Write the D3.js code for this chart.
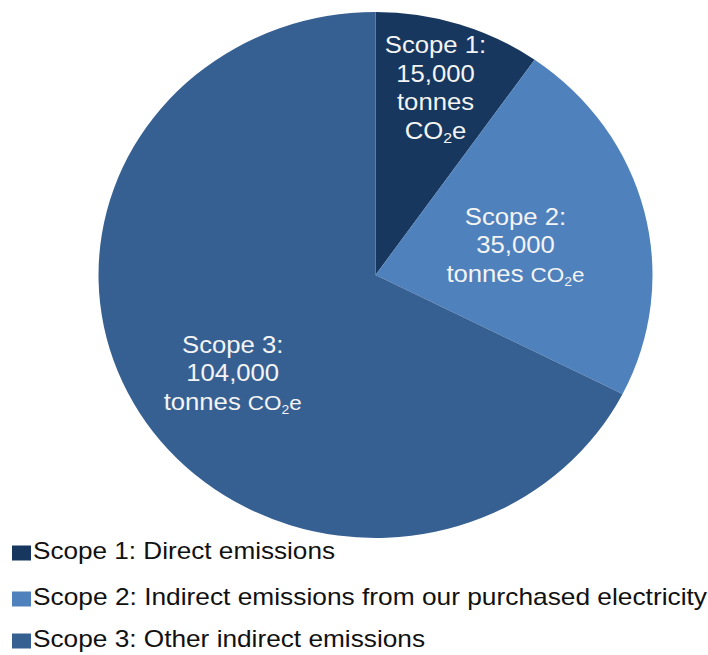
<!DOCTYPE html>
<html>
<head>
<meta charset="utf-8">
<script src="https://cdn.jsdelivr.net/npm/d3@7"></script>
<style>
    body { margin: 0; background: #fff; }
    svg { display: block; font-family: 'Liberation Sans', Arial, sans-serif; }
</style>
</head>
<body>
<div id="chart"></div>
<script>
// DATA
const categories = ['Scope 1', 'Scope 2', 'Scope 3']
const emissions = [15000, 35000, 104000]
const legendLabels = [
    'Scope 1: Direct emissions',
    'Scope 2: Indirect emissions from our purchased electricity',
    'Scope 3: Other indirect emissions'
]
const colors = ['#17375e', '#4f81bd', '#376092']

// SETTINGS
const settings = {
    width: 708,
    height: 655,
    center: { x: 375.5, y: 275 },
    radiusX: 277,
    radiusY: 263,
    labelRadius: [0.744, 0.518, 0.636],
    labelAngleShift: [-0.6, 1.3, -4.3],
    labelSize: 24,
    labelStretch: 1.07,
    lineHeight: 28.5,
    legend: { x: 12, rows: [551, 597, 639], boxW: 19, boxH: 15, fontSize: 24, textX: 33, widths: [302, 674, 392] }
}

const svg = d3.select('#chart').append('svg')
    .attr('width', settings.width)
    .attr('height', settings.height)

const pie = d3.pie().sort(null).value(d => d)
const arcs = pie(emissions)

const arc = d3.arc().innerRadius(0).outerRadius(settings.radiusX)

const pieGroup = svg.append('g')
    .attr('transform', `translate(${settings.center.x}, ${settings.center.y}) scale(1, ${settings.radiusY / settings.radiusX})`)

pieGroup.selectAll('path')
    .data(arcs)
    .enter().append('path')
    .attr('d', arc)
    .attr('fill', (d, i) => colors[i])

// labels
const fmt = d3.format(',')
const labelGroup = svg.append('g')
    .attr('transform', `translate(${settings.center.x}, ${settings.center.y})`)

arcs.forEach((d, i) => {
    const r = settings.labelRadius[i] * settings.radiusX
    const a = (d.startAngle + d.endAngle) / 2 + settings.labelAngleShift[i] * Math.PI / 180
    const cx = r * Math.sin(a)
    const cy = -r * Math.cos(a) * settings.radiusY / settings.radiusX
    // scope 1 is narrow, so it wraps into four lines
    const lines = i === 0
        ? [categories[i] + ':', fmt(emissions[i]), 'tonnes', 'CO2e']
        : [categories[i] + ':', fmt(emissions[i]), 'tonnes CO2e']
    const text = labelGroup.append('g')
        .attr('transform', `translate(${cx}, ${cy}) scale(${settings.labelStretch}, 1)`)
        .append('text')
        .attr('text-anchor', 'middle')
        .attr('fill', '#f4f4f4')
        .attr('font-size', settings.labelSize)
    const y0 = -(lines.length - 1) * settings.lineHeight / 2
    lines.forEach((line, j) => {
        const t = text.append('tspan')
            .attr('x', 0)
            .attr('y', y0 + j * settings.lineHeight)
            .attr('dy', '0.35em')
        if (line.includes('CO2e')) {
            const pre = line.replace('CO2e', '')
            const small = i === 0 ? 24 : 21
            if (pre) t.append('tspan').text(pre)
            t.append('tspan').attr('font-size', small).text('CO')
            t.append('tspan').attr('font-size', small * 0.62).attr('dy', '0.3em').text('2')
            t.append('tspan').attr('font-size', small).attr('dy', '-0.2em').text('e')
        } else {
            t.text(line)
        }
    })
})

// legend
const legend = svg.append('g')
const L = settings.legend
categories.forEach((c, i) => {
    const y = L.rows[i]
    legend.append('rect')
        .attr('x', L.x)
        .attr('y', y + 2 - L.boxH / 2)
        .attr('width', L.boxW)
        .attr('height', L.boxH)
        .attr('fill', colors[i])
    legend.append('text')
        .attr('x', L.textX)
        .attr('y', y)
        .attr('dy', '0.35em')
        .attr('font-size', L.fontSize)
        .attr('fill', '#111')
        .attr('textLength', L.widths[i])
        .attr('lengthAdjust', 'spacingAndGlyphs')
        .text(legendLabels[i])
})
</script>
</body>
</html>
